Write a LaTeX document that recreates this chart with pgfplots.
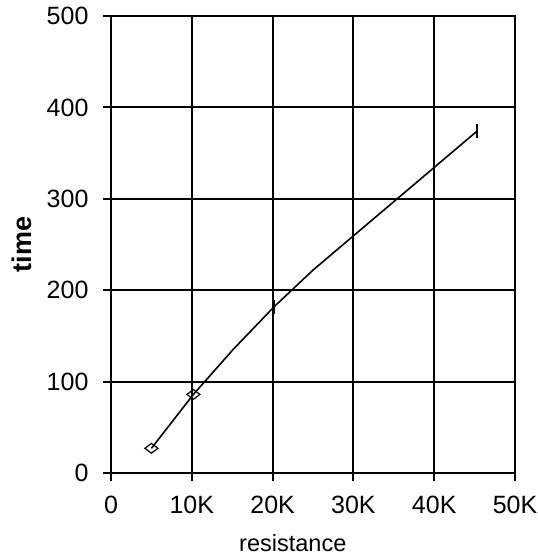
\documentclass[border=0pt]{standalone}
\usepackage{pgfplots}
\pgfplotsset{compat=1.18}
\usepackage{fontspec}
\setmainfont{Liberation Sans}

\begin{document}
\begin{tikzpicture}
    % page frame, 0.5pt per pixel of the reference
    \useasboundingbox (-55.5pt,-41pt) rectangle (213pt,236.5pt);
    \begin{axis}[
        at={(0,0)}, anchor=south west,
        scale only axis,
        width=202pt, height=228.5pt,
        xmin=0, xmax=50,
        ymin=0, ymax=500,
        xtick={0,10,...,50},
        xticklabels={0,10K,20K,30K,40K,50K},
        ytick={0,100,...,500},
        /pgf/number format/assume math mode=true,
        tick label style={font=\fontsize{12.5}{15}\selectfont},
        xticklabel style={yshift=-4pt},
        yticklabel style={xshift=-4pt},
        tick pos=left,
        tick align=center,
        major tick length=7.5pt,
        axis line style={line width=1pt},
        every tick/.style={black, line width=1pt},
        grid=major,
        grid style={black, line width=1pt},
        xlabel={resistance},
        ylabel={\bfseries time},
        xlabel style={font=\fontsize{11.75}{14}\selectfont, at={(axis description cs:0.45,0)}, anchor=north, yshift=-27pt},
        ylabel style={font=\fontsize{13.5}{16}\selectfont, at={(axis description cs:0,0.5)}, anchor=south, yshift=36pt},
    ]
    \addplot[black, line width=0.8pt, no marks] coordinates {
        (5,27)(10.2,86)(15.1,135)(20.2,182)(25,222)(45.3,374)
    };
    \addplot[only marks, mark=diamond, mark size=3.25pt,
        mark options={rotate=90, black, fill=white, line width=0.6pt}] coordinates {
        (5,27)(10.2,86)
    };
    \addplot[only marks, mark=|, mark size=3.5pt,
        mark options={black, line width=1.1pt}] coordinates {
        (20.2,182)(45.3,374)
    };
    \end{axis}
\end{tikzpicture}
\end{document}
